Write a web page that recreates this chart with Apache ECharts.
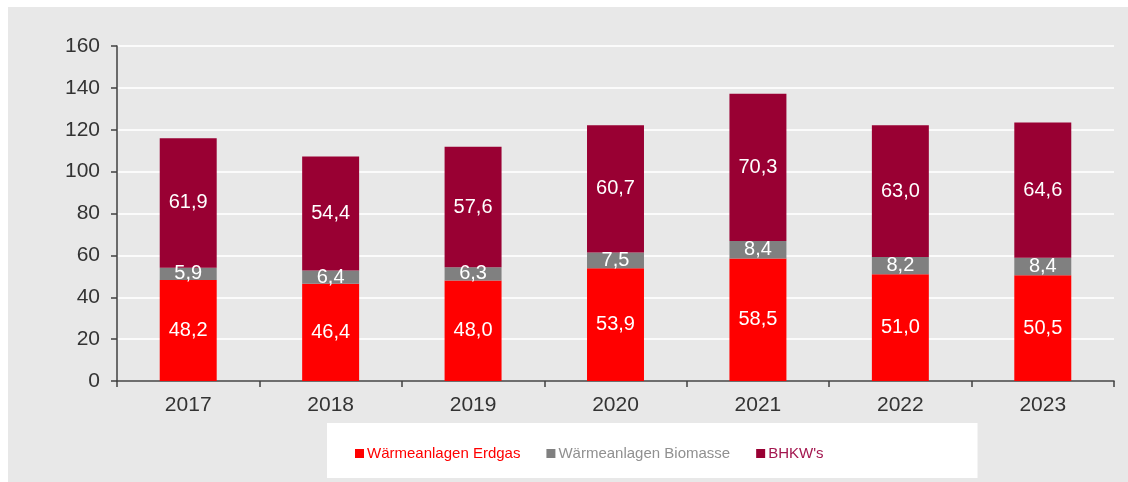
<!DOCTYPE html>
<html>
<head>
<meta charset="utf-8">
<script src="https://cdn.jsdelivr.net/npm/echarts@6/dist/echarts.min.js"></script>
<style>
  html, body { margin: 0; padding: 0; background: #fff; }
  #bg { position: absolute; left: 8px; top: 7px; width: 1120px; height: 475px; background: #e8e8e8; }
  #chart { position: absolute; left: 0; top: 0; width: 1128px; height: 482px; }
</style>
</head>
<body>
<div id="bg"></div>
<div id="chart"></div>
<script>
// Jahre und Werte
var jahre = ['2017', '2018', '2019', '2020', '2021', '2022', '2023'];
var erdgas = [48.2, 46.4, 48.0, 53.9, 58.5, 51.0, 50.5];
var biomasse = [5.9, 6.4, 6.3, 7.5, 8.4, 8.2, 8.4];
var bhkw = [61.9, 54.4, 57.6, 60.7, 70.3, 63.0, 64.6];
var yTicks = [0, 20, 40, 60, 80, 100, 120, 140, 160];

var font = "'Liberation Sans', Arial, sans-serif";

function komma(p) {
  return p.value.toFixed(1).replace('.', ',');
}

function serie(name, data, color) {
  return {
    name: name,
    type: 'bar',
    stack: 'summe',
    barWidth: '40%',
    data: data,
    itemStyle: { color: color },
    label: {
      show: true,
      position: 'inside',
      color: '#fff',
      fontSize: 20,
      fontFamily: font,
      formatter: komma
    }
  };
}

var chart = echarts.init(document.getElementById('chart'));
chart.setOption({
  backgroundColor: 'transparent',
  animation: false,
  textStyle: { fontFamily: font },
  grid: { left: 117, right: 14, top: 46, bottom: 101 },
  legend: {
    left: 327,
    top: 423,
    backgroundColor: '#fff',
    padding: [23, 154, 17, 28],
    icon: 'rect',
    itemWidth: 9,
    itemHeight: 9,
    itemGap: 26,
    textStyle: { fontSize: 15, fontFamily: font, padding: [0, 0, 0, -2] },
    data: [
      { name: 'Wärmeanlagen Erdgas', textStyle: { color: '#ff0000' } },
      { name: 'Wärmeanlagen Biomasse', textStyle: { color: '#909090' } },
      { name: "BHKW's", textStyle: { color: '#a3174f' } }
    ]
  },
  xAxis: {
    type: 'category',
    data: jahre,
    axisLine: { lineStyle: { color: '#404040', width: 1.5 } },
    axisTick: { show: true, length: 6, lineStyle: { color: '#404040', width: 1.5 } },
    axisLabel: { color: '#333', fontSize: 21, margin: 14 }
  },
  yAxis: {
    type: 'value',
    min: yTicks[0],
    max: yTicks[yTicks.length - 1],
    interval: 20,
    axisLine: { show: true, lineStyle: { color: '#404040', width: 1.5 } },
    axisTick: { show: true, length: 6, lineStyle: { color: '#404040', width: 1.5 } },
    axisLabel: { color: '#333', fontSize: 21, margin: 17 },
    splitLine: { lineStyle: { color: '#fbfbfb', width: 2 } }
  },
  series: [
    serie('Wärmeanlagen Erdgas', erdgas, '#ff0000'),
    serie('Wärmeanlagen Biomasse', biomasse, '#808080'),
    serie("BHKW's", bhkw, '#990033')
  ]
});
</script>
</body>
</html>
